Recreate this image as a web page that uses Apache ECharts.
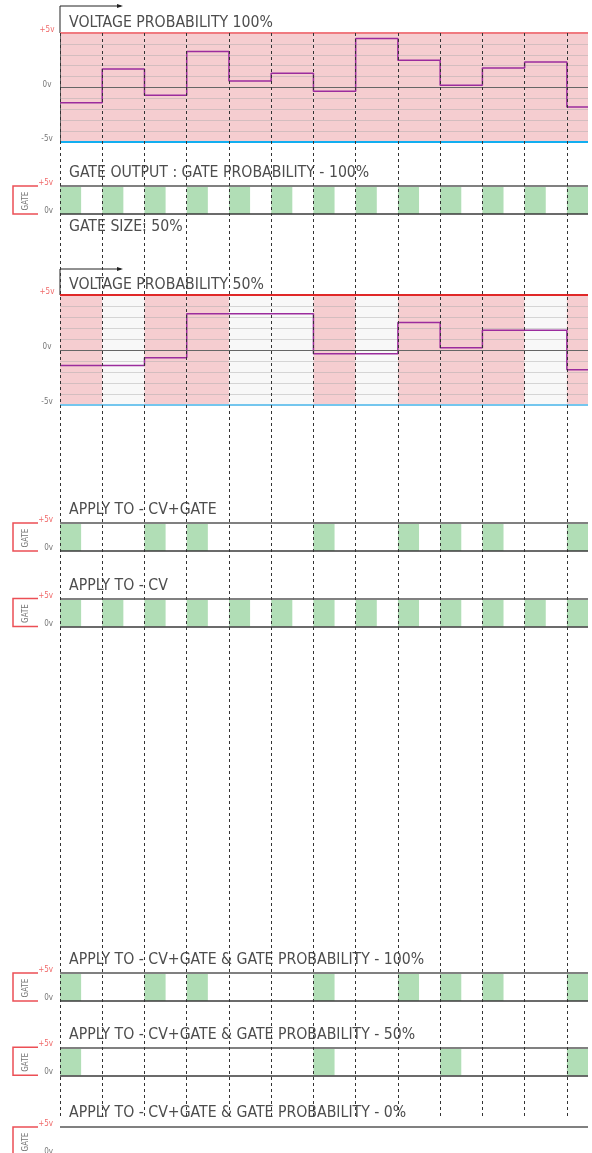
<!DOCTYPE html>
<html>
<head>
<meta charset="utf-8">
<script src="https://cdn.jsdelivr.net/npm/echarts@6/dist/echarts.min.js"></script>
<style>
  html, body { margin: 0; padding: 0; background: #fff; }
  #chart { width: 592px; height: 1153px; }
</style>
</head>
<body>
<div id="chart"></div>
<script>
// --- sequence data ---
const steps = [0, 1, 2, 3, 4, 5, 6, 7, 8, 9, 10, 11, 12];
const axisEnd = 12.5; // last step is cut at the right edge
const gateSize = 0.5; // GATE SIZE: 50%

// voltage per step (v)
const voltage100 = [-1.4, 1.7, -0.7, 3.3, 0.6, 1.3, -0.35, 4.5, 2.5, 0.2, 1.8, 2.35, -1.8];
const voltage50 = [-1.4, -1.4, -0.7, 3.3, 3.3, 3.3, -0.35, -0.35, 2.5, 0.2, 1.8, 1.8, -1.8];
// steps where a new voltage is taken (pink columns)
const changed100 = [1, 1, 1, 1, 1, 1, 1, 1, 1, 1, 1, 1, 1];
const changed50 = [1, 0, 1, 1, 0, 0, 1, 0, 1, 1, 1, 0, 1];

// gate on/off per step
const gateAll = [1, 1, 1, 1, 1, 1, 1, 1, 1, 1, 1, 1, 1];
const gateCvGate = [1, 0, 1, 1, 0, 0, 1, 0, 1, 1, 1, 0, 1];
const gateCv = [1, 1, 1, 1, 1, 1, 1, 1, 1, 1, 1, 1, 1];
const gateCvGate100 = [1, 0, 1, 1, 0, 0, 1, 0, 1, 1, 1, 0, 1];
const gateCvGate50 = [1, 0, 0, 0, 0, 0, 1, 0, 0, 1, 0, 0, 1];
const gateCvGate0 = [0, 0, 0, 0, 0, 0, 0, 0, 0, 0, 0, 0, 0];

// tick labels
const voltTicks = [5, 0, -5];
const voltTickLabels = ['+5v', '0v', '-5v'];
const gateTicks = [5, 0];
const gateTickLabels = ['+5v', '0v'];

// --- layout ---
const LEFT = 60;
const RIGHT = 4;
const GATE_H = 28;
const FONT = "'Liberation Sans Narrow', 'DejaVu Sans Condensed', sans-serif";
const TITLE_SIZE = 15.7;

const voltagePanels = [
  { top: 33, height: 109, title: 'VOLTAGE PROBABILITY 100%', titleY: 23, arrowY: 6,
    values: voltage100, changed: changed100, topColor: '#f07a80', bottomColor: '#12aef0', leftLine: true },
  { top: 295, height: 110, title: 'VOLTAGE PROBABILITY 50%', titleY: 284.5, arrowY: 269,
    values: voltage50, changed: changed50, topColor: '#e02828', bottomColor: '#74c6ee', leftLine: false },
];

const gatePanels = [
  { top: 186, title: 'GATE OUTPUT : GATE PROBABILITY - 100%', titleY: 172.5, gates: gateAll },
  { top: 523, title: 'APPLY TO - CV+GATE', titleY: 510, gates: gateCvGate },
  { top: 598.5, title: 'APPLY TO - CV', titleY: 586.3, gates: gateCv },
  { top: 973, title: 'APPLY TO - CV+GATE & GATE PROBABILITY - 100%', titleY: 960, gates: gateCvGate100 },
  { top: 1047.3, title: 'APPLY TO - CV+GATE & GATE PROBABILITY - 50%', titleY: 1035, gates: gateCvGate50 },
  { top: 1127, title: 'APPLY TO - CV+GATE & GATE PROBABILITY - 0%', titleY: 1113.3, gates: gateCvGate0 },
];

// rectangles from step i to i+width, between two y values
function columnItem(yLow, yHigh, width, colorOn, colorOff) {
  return function (params, api) {
    const i = api.value(0);
    const on = api.value(1);
    if (!on && !colorOff) return null;
    const p0 = api.coord([i, yHigh]);
    const p1 = api.coord([Math.min(i + width, axisEnd), yLow]);
    return {
      type: 'rect',
      shape: { x: p0[0], y: p0[1], width: p1[0] - p0[0], height: p1[1] - p0[1] },
      style: { fill: on ? colorOn : colorOff },
    };
  };
}

function tickFormatter(ticks, labels) {
  return function (v) {
    const k = ticks.indexOf(v);
    if (k < 0) return '';
    return (v > 0 ? '{p|' : '{g|') + labels[k] + '}';
  };
}
const tickRich = {
  p: { color: '#f06a6a', fontSize: 8, fontFamily: FONT },
  g: { color: '#777', fontSize: 8, fontFamily: FONT },
};

function titleText(text, y) {
  return {
    type: 'text', x: 69, y: y,
    style: { text: text, fill: '#4d4d4d', fontSize: TITLE_SIZE, fontFamily: FONT, verticalAlign: 'middle' },
  };
}

const grid = [];
const xAxis = [];
const yAxis = [];
const series = [];
const graphic = [];

// background grid: dashed step lines over the whole page
grid.push({ left: LEFT, right: RIGHT, top: 33, height: 1084, outerBoundsMode: 'none' });
xAxis.push({
  gridIndex: 0, type: 'value', min: 0, max: axisEnd, interval: 1, z: 6,
  axisLine: { show: false }, axisTick: { show: false }, axisLabel: { show: false },
  splitLine: { show: true, showMaxLine: false, lineStyle: { color: '#333', width: 1, type: [3, 3] } },
});
yAxis.push({ gridIndex: 0, type: 'value', min: 0, max: 1, show: false });

voltagePanels.forEach((p) => {
  const gi = grid.length;
  grid.push({ left: LEFT, right: RIGHT, top: p.top, height: p.height, outerBoundsMode: 'none' });
  xAxis.push({ gridIndex: gi, type: 'value', min: 0, max: axisEnd, show: false });
  yAxis.push({
    gridIndex: gi, type: 'value', min: -5, max: 5, interval: 1, z: 3,
    axisLine: { show: p.leftLine, lineStyle: { color: '#666', width: 1 } },
    axisTick: { show: false },
    axisLabel: {
      margin: 13, align: 'center', verticalAlign: 'middle', padding: [0, 0, 6, 0],
      formatter: tickFormatter(voltTicks, voltTickLabels), rich: tickRich,
    },
    splitLine: { show: true, lineStyle: { color: 'rgba(170,170,170,0.45)', width: 1 } },
  });
  series.push({
    type: 'custom', xAxisIndex: gi, yAxisIndex: gi, z: 1, silent: true,
    renderItem: columnItem(-5, 5, 1, '#f5cdd0', '#f8f8f8'),
    data: steps.map((s, i) => [s, p.changed[i]]),
  });
  series.push({
    type: 'line', xAxisIndex: gi, yAxisIndex: gi, z: 4, step: 'end',
    showSymbol: false, silent: true,
    lineStyle: { color: '#9b2c9d', width: 1.5 },
    data: steps.map((s, i) => [s, p.values[i]]).concat([[axisEnd, p.values[p.values.length - 1]]]),
    markLine: {
      silent: true, symbol: ['none', 'none'], label: { show: false }, animation: false,
      data: [
        { yAxis: 5, lineStyle: { color: p.topColor, width: 2, type: 'solid' } },
        { yAxis: 0, lineStyle: { color: '#666', width: 1, type: 'solid' } },
        { yAxis: -5, lineStyle: { color: p.bottomColor, width: 2, type: 'solid' } },
      ],
    },
  });
  graphic.push(titleText(p.title, p.titleY));
  // time arrow
  graphic.push({
    type: 'polyline', shape: { points: [[LEFT, p.top], [LEFT, p.arrowY], [121, p.arrowY]] },
    style: { stroke: '#222', lineWidth: 1, fill: null },
  });
  graphic.push({
    type: 'polygon', shape: { points: [[117, p.arrowY - 2], [123, p.arrowY], [117, p.arrowY + 2]] },
    style: { fill: '#222' },
  });
});

gatePanels.forEach((p) => {
  const gi = grid.length;
  grid.push({ left: LEFT, right: RIGHT, top: p.top, height: GATE_H, outerBoundsMode: 'none' });
  xAxis.push({ gridIndex: gi, type: 'value', min: 0, max: axisEnd, show: false });
  yAxis.push({
    gridIndex: gi, type: 'value', min: 0, max: 5, interval: 5,
    axisLine: { show: false }, axisTick: { show: false }, splitLine: { show: false },
    axisLabel: {
      margin: 7, verticalAlign: 'middle', padding: [0, 0, 6, 0],
      formatter: tickFormatter(gateTicks, gateTickLabels), rich: tickRich,
    },
  });
  series.push({
    type: 'custom', xAxisIndex: gi, yAxisIndex: gi, z: 2, silent: true,
    renderItem: columnItem(0, 5, gateSize, '#b1deb6', null),
    data: steps.map((s, i) => [s, p.gates[i]]),
    markLine: {
      silent: true, symbol: ['none', 'none'], label: { show: false }, animation: false,
      data: [
        { yAxis: 5, lineStyle: { color: '#808080', width: 2, type: 'solid' } },
        { yAxis: 0, lineStyle: { color: '#3a3a3a', width: 1.5, type: 'solid' } },
      ],
    },
  });
  graphic.push(titleText(p.title, p.titleY));
  // red GATE bracket
  graphic.push({
    type: 'polyline',
    shape: { points: [[38, p.top], [13, p.top], [13, p.top + GATE_H], [38, p.top + GATE_H]] },
    style: { stroke: '#ec4f55', lineWidth: 1.5, fill: null },
  });
  graphic.push({
    type: 'text', x: 26, y: p.top + GATE_H / 2 + 1, rotation: Math.PI / 2,
    style: { text: 'GATE', fill: '#777', fontSize: 8, fontFamily: FONT, align: 'center', verticalAlign: 'middle' },
  });
});

graphic.push(titleText('GATE SIZE: 50%', 226.5));

const chart = echarts.init(document.getElementById('chart'));
chart.setOption({
  animation: false,
  backgroundColor: '#fff',
  grid, xAxis, yAxis, series, graphic,
});
</script>
</body>
</html>
